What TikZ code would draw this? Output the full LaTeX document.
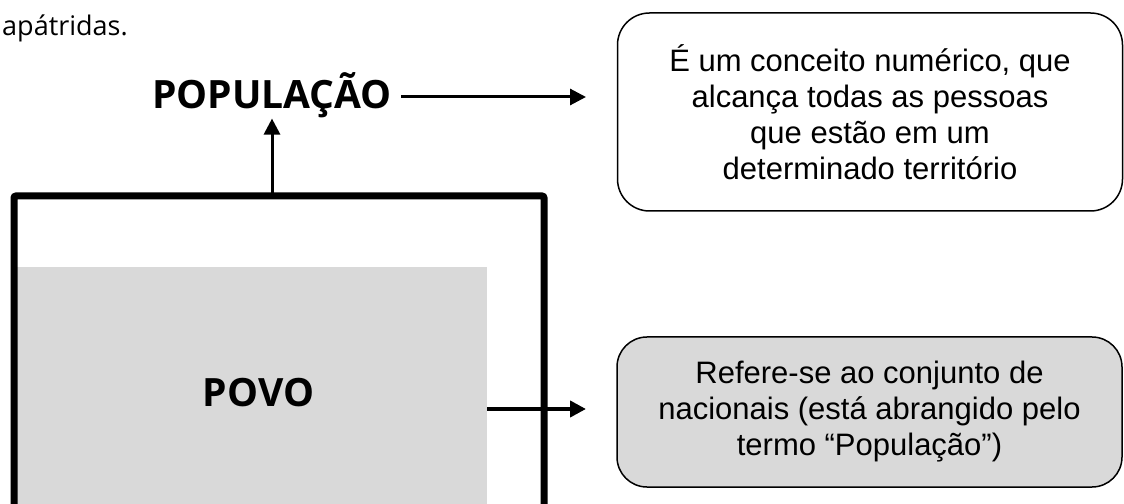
\documentclass[tikz,border=0pt]{standalone}
\usepackage{fontspec}
\setmainfont{Liberation Sans}
\newfontfamily\segoe{Open Sans}
\usetikzlibrary{arrows.meta, positioning}
\definecolor{cinza}{HTML}{D9D9D9}

\begin{document}
\begin{tikzpicture}[
   x = 1bp, y = -1bp,
   seta/.style = {-{Triangle[length=16bp, width=16bp]}, line width=3bp},
   caixa/.style = {draw, line width=1.5bp, rounded corners=32bp, minimum width=505bp,
                   align=center, font=\fontsize{31bp}{36bp}\selectfont},
   titulo/.style = {inner sep=0pt, font=\segoe\bfseries\fontsize{39bp}{44bp}\selectfont}]
   \useasboundingbox (0,0) rectangle (1124,504);
   \clip (0,0) rectangle (1124,504);

   \node[anchor=base west, inner sep=0pt, font=\segoe\fontsize{27bp}{30bp}\selectfont]
      (resto) at (2,36) {apátridas.};

   \node[titulo, anchor=base] (populacao) at (272,109) {POPULAÇÃO};

   \node[fill=cinza, anchor=north west, inner sep=0pt, outer sep=0pt,
         minimum width=473bp, minimum height=252bp,
         font=\segoe\bfseries\fontsize{39bp}{44bp}\selectfont] (povo) at (14,267) {\hspace*{16bp}POVO};
   \node[draw, line width=7bp, rounded corners=2bp, anchor=north west, inner sep=0pt, outer sep=0pt,
         minimum width=530bp, minimum height=400bp] (quadro) at (14,196) {};

   \node[caixa, minimum height=198bp] (conceito) at (870,112)
      {É um conceito numérico, que\\ alcança todas as pessoas\\ que estão em um\\ determinado território};
   \node[caixa, fill=cinza, rounded corners=30bp, minimum height=150bp] (nacionais) at (869.5,412)
      {Refere-se ao conjunto de\\ nacionais (está abrangido pelo\\ termo “População”)};

   \coordinate (pontaA) at (586,97);
   \coordinate (pontaB) at (586,409);

   \draw[seta] (populacao.south |- quadro.north) -- (populacao.south);
   \draw[seta] ([xshift=9bp]populacao.east |- pontaA) -- (pontaA);
   \draw[seta, line width=4bp] (povo.east |- pontaB) -- (pontaB);
\end{tikzpicture}
\end{document}
